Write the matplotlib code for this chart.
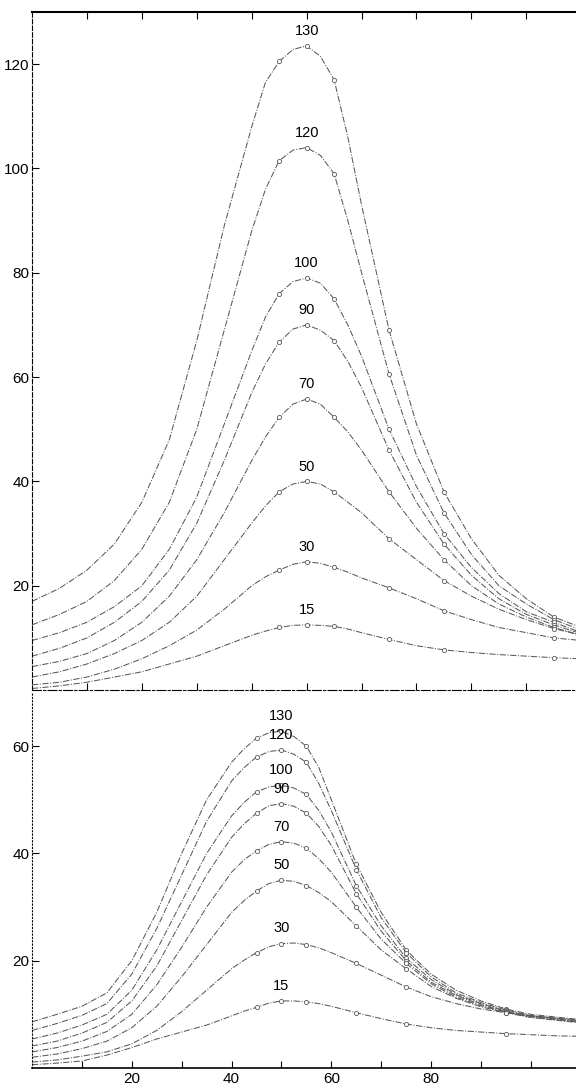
"""Two-panel resonance curves, redrawn from a scanned figure (matplotlib)."""

import matplotlib

matplotlib.use("Agg")
import matplotlib.pyplot as plt

plt.rcParams["font.family"] = ["Liberation Sans", "DejaVu Sans"]

# values, shared x grid
x_top = [0, 5, 10, 15, 20, 25, 30, 35, 40, 42.5, 45, 47.5, 50, 52.5, 55, 57.5, 60,
         65, 70, 75, 80, 85, 90, 95, 100]
x_bot = x_top + [105, 110]
labels = ["130", "120", "100", "90", "70", "50", "30", "15"]
x_marked = [45, 50, 55, 65, 75, 95]

top_130 = [17, 19.5, 23, 28, 36, 48, 67, 89, 108, 116.5, 120.5, 122.8, 123.5, 121.5, 117, 106, 93,
           69, 51, 38, 29, 22, 17.5, 14, 12]
top_120 = [12.5, 14.5, 17, 21, 27, 36, 50, 69, 88, 96, 101.5, 103.5, 104, 102.5, 99, 90, 80,
           60.6, 45, 34, 26, 20, 16.5, 13.5, 11.5]
top_100 = [9.5, 11, 13, 16, 20, 27, 37, 51, 65, 71.5, 76, 78.3, 79, 78, 75, 70, 64,
           50, 39, 30, 23.5, 18.5, 15, 13, 11]
top_90 = [6.5, 8, 10, 13, 17, 23, 32, 44, 57, 62.5, 66.7, 69.2, 70, 69, 67, 63, 58,
          46, 36, 28, 22, 17.5, 14.5, 12.5, 10.8]
top_70 = [4.5, 5.5, 7, 9.5, 13, 18, 25, 34, 44, 48.5, 52.3, 54.8, 55.8, 54.8, 52.3, 49.5, 46,
          38, 31, 25, 20, 16.5, 14, 12, 10.5]
top_50 = [2.5, 3.5, 5, 7, 9.5, 13, 18, 25, 32, 35.3, 38, 39.5, 40, 39.5, 38, 36, 34,
          29, 25, 21, 18, 15.5, 13.5, 11.8, 10.5]
top_30 = [1, 1.5, 2.5, 4, 6, 8.5, 11.5, 15.5, 20, 21.7, 23, 24.1, 24.6, 24.3, 23.5, 22.6, 21.5,
          19.6, 17.5, 15.2, 13.5, 12, 11, 10, 9.5]
top_15 = [0.3, 0.8, 1.5, 2.5, 3.5, 5, 6.5, 8.5, 10.5, 11.3, 12, 12.4, 12.5, 12.4, 12.2, 11.7, 11,
          9.7, 8.5, 7.7, 7.2, 6.8, 6.5, 6.2, 6]

bot_130 = [8.6, 10, 11.5, 14, 20, 29, 40, 50, 57, 59.5, 61.5, 62.5, 62.8, 61.8, 60, 56, 50,
           38, 29, 22, 17.5, 14.5, 12.5, 11, 10, 9.5, 9]
bot_120 = [7, 8.3, 9.8, 12, 17.5, 26, 36, 46, 53.5, 56, 58, 59, 59.3, 58.5, 57, 53, 48,
           37, 28, 21.5, 17, 14, 12.2, 10.8, 9.8, 9.3, 8.8]
bot_100 = [5.4, 6.5, 8, 10, 14.5, 22, 31, 40, 47, 49.5, 51.5, 52.4, 52.7, 52.2, 51, 48, 44,
           34, 26.5, 20.5, 16.5, 13.7, 12, 10.6, 9.7, 9.2, 8.7]
bot_90 = [4.1, 5, 6.5, 8.5, 12.5, 19, 27.5, 36, 43, 45.5, 47.5, 48.9, 49.3, 48.8, 47.5, 45, 41.5,
          32.5, 25.5, 20, 16, 13.5, 11.8, 10.5, 9.6, 9.1, 8.6]
bot_70 = [3, 3.8, 5, 6.8, 10, 15.5, 22.5, 30, 36.5, 38.8, 40.5, 41.7, 42.2, 41.9, 41, 39, 36.5,
          30, 24, 19.5, 15.7, 13.2, 11.6, 10.4, 9.5, 9, 8.5]
bot_50 = [2, 2.6, 3.6, 5, 7.5, 11.5, 17, 23, 29, 31.2, 33, 34.4, 35, 34.8, 34, 32.7, 31,
          26.5, 22, 18.5, 15.2, 13, 11.4, 10.3, 9.4, 8.9, 8.4]
bot_30 = [1.1, 1.5, 2.2, 3, 4.5, 7, 10.5, 14.5, 18.5, 20.1, 21.5, 22.6, 23.2, 23.3, 23, 22.4, 21.5,
          19.5, 17.3, 15.1, 13.3, 12, 11, 10.3, 9.7, 9.3, 9]
bot_15 = [0.6, 0.9, 1.3, 2.4, 3.8, 5.4, 6.7, 8.0, 9.7, 10.6, 11.3, 12.1, 12.5, 12.5, 12.3, 12, 11.5,
          10.3, 9.2, 8.2, 7.5, 7.0, 6.7, 6.4, 6.2, 6.0, 5.9]

top_series = [top_130, top_120, top_100, top_90, top_70, top_50, top_30, top_15]
bot_series = [bot_130, bot_120, bot_100, bot_90, bot_70, bot_50, bot_30, bot_15]

fig = plt.figure(figsize=(5.76, 10.85), dpi=100)
ax_top = fig.add_axes([0.0556, 0.364, 0.944, 0.625])
ax_bot = fig.add_axes([0.0556, 0.0157, 0.944, 0.346])

line = dict(color="0.35", lw=0.75, ls=(0, (6, 1.5, 1, 1.5)))


def draw_panel(ax, xs, series, xmax, ymax):
    idx = [xs.index(v) for v in x_marked]
    for lab, ys in zip(labels, series):
        ax.plot(xs, ys, **line)
        ax.plot([xs[i] for i in idx], [ys[i] for i in idx], "o", ms=3,
                mfc="white", mec="0.35", mew=0.6, ls="none")
        ax.text(50, max(ys) + 1.5, lab, ha="center", va="bottom", fontsize=10.5)
    ax.set_xlim(0, xmax)
    ax.set_ylim(0, ymax)
    ax.spines["right"].set_visible(False)
    ax.spines["left"].set_linestyle((0, (4, 2)))
    ax.spines["left"].set_linewidth(0.8)
    ax.set_xticks(range(10, int(xmax) + 1, 10))
    ax.tick_params(direction="in", length=5, width=0.8, labelsize=11, pad=2)


draw_panel(ax_top, x_top, top_series, 99, 130)
ax_top.spines["top"].set_linewidth(1.5)
ax_top.spines["bottom"].set_linestyle((0, (8, 2, 2, 2)))
ax_top.set_yticks([20, 40, 60, 80, 100, 120])
ax_top.tick_params(axis="x", top=True, labelbottom=False)

draw_panel(ax_bot, x_bot, bot_series, 109, 70)
ax_bot.spines["top"].set_visible(False)
ax_bot.spines["left"].set_linestyle((0, (1, 2)))
ax_bot.spines["bottom"].set_linewidth(1.2)
ax_bot.set_yticks([20, 40, 60])
ax_bot.set_xticklabels(["", "20", "", "40", "", "60", "", "80", "", ""])
ax_bot.tick_params(axis="x", pad=3)

fig.savefig("out.png", dpi=100)
